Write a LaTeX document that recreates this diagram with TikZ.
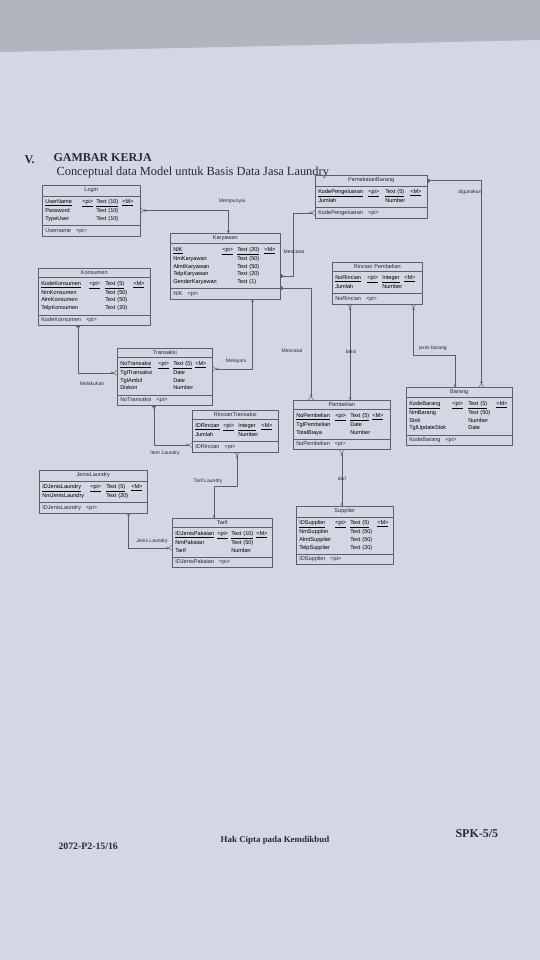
\documentclass[tikz,border=0pt]{standalone}
\usepackage{fontspec}
\usepackage{array}
\setmainfont{Liberation Serif}
\newfontfamily\erfont{Liberation Sans}
\setlength{\tabcolsep}{0pt}
\usetikzlibrary{shapes.multipart, arrows.meta, positioning}
\definecolor{paper}{RGB}{212,214,227}
\definecolor{topgray}{RGB}{178,180,192}
\definecolor{ink}{RGB}{40,41,52}
\definecolor{boxline}{RGB}{92,94,108}

\begin{document}
\begin{tikzpicture}[x=1pt, y=-1pt,
  entity/.style={rectangle split, rectangle split parts=3, draw=boxline, line width=0.5pt,
    anchor=north west, inner xsep=3pt, inner ysep=2.4pt, text=ink,
    font=\erfont\fontsize{5.6}{7.8}\selectfont},
  rel/.style={draw=boxline, line width=0.4pt,
    arrows={{Bar[width=4pt] Circle[open,length=2.6pt]}-{Circle[open,length=2.6pt] Straight Barb[reversed,length=3pt,width=5pt]}}},
  lbl/.style={font=\erfont\fontsize{5}{6}\selectfont, text=ink, inner sep=0pt}]

  % page
  \fill[paper] (0,0) rectangle (540,960);
  \fill[topgray] (0,0) -- (540,0) -- (540,40) -- (0,52) -- cycle;
  \useasboundingbox (0,0) rectangle (540,960);

  % heading
  \node[anchor=west, font=\bfseries\fontsize{12}{13}\selectfont, text=ink] (nomor) at (21,160) {V.};
  \node[anchor=west, font=\bfseries\fontsize{12}{13}\selectfont, text=ink] (judul) at (50,158) {GAMBAR KERJA};
  \node[anchor=west, font=\fontsize{12.4}{13}\selectfont, text=ink] (subjudul) at (53,173) {Conceptual data Model untuk Basis Data Jasa Laundry};

  % entitas
  \node[entity, text width=92pt] (login) at (42,185) {\hfill Login\hfill\null
    \nodepart{two}\begin{tabular}{@{}w{l}{37pt}w{l}{14pt}w{l}{26pt}l@{}}
      \underline{UserName} & \underline{<pi>} & \underline{Text (10)} & \underline{<M>}\\
      Password & & Text (10) & \\
      TypeUser & & Text (10) &
    \end{tabular}
    \nodepart{three}Username\hspace{5pt}<pi>};

  \node[entity, text width=104pt] (karyawan) at (170,233) {\hfill Karyawan\hfill\null
    \nodepart{two}\begin{tabular}{@{}w{l}{49pt}w{l}{15pt}w{l}{27pt}l@{}}
      \underline{NIK} & \underline{<pi>} & \underline{Text (20)} & \underline{<M>}\\
      NmKaryawan & & Text (50) & \\
      AlmtKaryawan & & Text (50) & \\
      TelpKaryawan & & Text (20) & \\
      GenderKaryawan & & Text (1) &
    \end{tabular}
    \nodepart{three}NIK\hspace{5pt}<pi>};

  \node[entity, text width=106pt] (pemakaian) at (315,175) {\hfill PemakaianBarang\hfill\null
    \nodepart{two}\begin{tabular}{@{}w{l}{50pt}w{l}{17pt}w{l}{25pt}l@{}}
      \underline{KodePengeluaran} & \underline{<pi>} & \underline{Text (5)} & \underline{<M>}\\
      Jumlah & & Number &
    \end{tabular}
    \nodepart{three}KodePengeluaran\hspace{5pt}<pi>};

  \node[entity, text width=106pt] (konsumen) at (38,268) {\hfill Konsumen\hfill\null
    \nodepart{two}\begin{tabular}{@{}w{l}{48pt}w{l}{16pt}w{l}{28pt}l@{}}
      \underline{KodeKonsumen} & \underline{<pi>} & \underline{Text (5)} & \underline{<M>}\\
      NmKonsumen & & Text (50) & \\
      AlmKonsumen & & Text (50) & \\
      TelpKonsumen & & Text (20) &
    \end{tabular}
    \nodepart{three}KodeKonsumen\hspace{5pt}<pi>};

  \node[entity, text width=84pt] (rpembelian) at (332,262) {\hfill Rincian Pembelian\hfill\null
    \nodepart{two}\begin{tabular}{@{}w{l}{32pt}w{l}{15pt}w{l}{22pt}l@{}}
      \underline{NoRincian} & \underline{<pi>} & \underline{Integer} & \underline{<M>}\\
      Jumlah & & Number &
    \end{tabular}
    \nodepart{three}NoRincian\hspace{5pt}<pi>};

  \node[entity, text width=89pt] (transaksi) at (117,348) {\hfill Transaksi\hfill\null
    \nodepart{two}\begin{tabular}{@{}w{l}{38pt}w{l}{15pt}w{l}{22pt}l@{}}
      \underline{NoTransaksi} & \underline{<pi>} & \underline{Text (5)} & \underline{<M>}\\
      TglTransaksi & & Date & \\
      TglAmbil & & Date & \\
      Diskon & & Number &
    \end{tabular}
    \nodepart{three}NoTransaksi\hspace{5pt}<pi>};

  \node[entity, text width=80pt] (rtransaksi) at (192,410) {\hfill RincianTransaksi\hfill\null
    \nodepart{two}\begin{tabular}{@{}w{l}{28pt}w{l}{15pt}w{l}{23pt}l@{}}
      \underline{IDRincian} & \underline{<pi>} & \underline{Integer} & \underline{<M>}\\
      Jumlah & & Number &
    \end{tabular}
    \nodepart{three}IDRincian\hspace{5pt}<pi>};

  \node[entity, text width=91pt] (pembelian) at (293,400) {\hfill Pembelian\hfill\null
    \nodepart{two}\begin{tabular}{@{}w{l}{39pt}w{l}{15pt}w{l}{22pt}l@{}}
      \underline{NoPembelian} & \underline{<pi>} & \underline{Text (5)} & \underline{<M>}\\
      TglPembelian & & Date & \\
      TotalBiaya & & Number &
    \end{tabular}
    \nodepart{three}NoPembelian\hspace{5pt}<pi>};

  \node[entity, text width=100pt] (barang) at (406,387) {\hfill Barang\hfill\null
    \nodepart{two}\begin{tabular}{@{}w{l}{43pt}w{l}{16pt}w{l}{28pt}l@{}}
      \underline{KodeBarang} & \underline{<pi>} & \underline{Text (5)} & \underline{<M>}\\
      NmBarang & & Text (50) & \\
      Stok & & Number & \\
      TglUpdateStok & & Date &
    \end{tabular}
    \nodepart{three}KodeBarang\hspace{5pt}<pi>};

  \node[entity, text width=102pt] (jenis) at (39,470) {\hfill JenisLaundry\hfill\null
    \nodepart{two}\begin{tabular}{@{}w{l}{48pt}w{l}{16pt}w{l}{25pt}l@{}}
      \underline{IDJenisLaundry} & \underline{<pi>} & \underline{Text (5)} & \underline{<M>}\\
      NmJenisLaundry & & Text (20) &
    \end{tabular}
    \nodepart{three}IDJenisLaundry\hspace{5pt}<pi>};

  \node[entity, text width=94pt] (tarif) at (172,518) {\hfill Tarif\hfill\null
    \nodepart{two}\begin{tabular}{@{}w{l}{42pt}w{l}{14pt}w{l}{25pt}l@{}}
      \underline{IDJenisPakaian} & \underline{<pi>} & \underline{Text (10)} & \underline{<M>}\\
      NmPakaian & & Text (50) & \\
      Tarif & & Number &
    \end{tabular}
    \nodepart{three}IDJenisPakaian\hspace{5pt}<pi>};

  \node[entity, text width=91pt] (supplier) at (296,506) {\hfill Supplier\hfill\null
    \nodepart{two}\begin{tabular}{@{}w{l}{36pt}w{l}{15pt}w{l}{27pt}l@{}}
      \underline{IDSupplier} & \underline{<pi>} & \underline{Text (5)} & \underline{<M>}\\
      NmSupplier & & Text (50) & \\
      AlmtSupplier & & Text (50) & \\
      TelpSupplier & & Text (20) &
    \end{tabular}
    \nodepart{three}IDSupplier\hspace{5pt}<pi>};

  % relasi
  \draw[rel] ([xshift=3]karyawan.north) |- (login.east);
  \draw[rel] ([yshift=-10]karyawan.east) -| ([xshift=-22]pemakaian.three west) -- (pemakaian.three west);
  \draw[rel] (pemakaian.text east) -| ([xshift=-31]barang.north east);
  \draw[rel] ([yshift=-22]karyawan.east) -| ([xshift=18]pembelian.north west);
  \draw[rel] ([xshift=18]rpembelian.south west |- pembelian.north) -- ([xshift=18]rpembelian.south west);
  \draw[rel] ([xshift=49]barang.north west) -- ++(0,-32) -| ([xshift=-9]rpembelian.south east);
  \draw[rel] (supplier.north -| pembelian.south) -- (pembelian.south);
  \draw[rel] ([xshift=40]konsumen.south west) |- ([yshift=4]transaksi.west);
  \draw[rel] ([xshift=-28]karyawan.south east) |- ([yshift=8]transaksi.east);
  \draw[rel] ([xshift=37]transaksi.south west) |- ([yshift=7]rtransaksi.south west);
  \draw[rel] ([xshift=42]tarif.north west) -- ++(0,-32) -| ([xshift=45]rtransaksi.south west);
  \draw[rel] ([xshift=-19]jenis.south east) |- ([yshift=-5]tarif.west);

  % label relasi
  \node[lbl] (l-mempunyai) at (232,201) {Mempunyai};
  \node[lbl] (l-mencatat) at (294,252) {Mencatat};
  \node[lbl] (l-digunakan) at (470,192) {digunakan};
  \node[lbl] (l-mencatat2) at (292,351) {Mencatat};
  \node[lbl] (l-beisi) at (351,352) {beisi};
  \node[lbl] (l-jenisbarang) at (433,348) {jenis barang};
  \node[lbl] (l-dari) at (342,479) {dari};
  \node[lbl] (l-melakukan) at (92,384) {Melakukan};
  \node[lbl] (l-melayani) at (236,361) {Melayani};
  \node[lbl] (l-item) at (165,453) {Item Laundry};
  \node[lbl] (l-tarif) at (208,481) {Tarif Laundry};
  \node[lbl] (l-jenis) at (152,541) {Jenis Laundry};

  % kaki halaman
  \node[anchor=west, font=\bfseries\fontsize{9.8}{11}\selectfont, text=ink] (kode) at (55,846) {2072-P2-15/16};
  \node[font=\bfseries\fontsize{8.9}{10}\selectfont, text=ink] (hakcipta) at (275,840) {Hak Cipta pada Kemdikbud};
  \node[anchor=west, font=\bfseries\fontsize{12}{13}\selectfont, text=ink] (spk) at (452,834) {SPK-5/5};
\end{tikzpicture}
\end{document}
